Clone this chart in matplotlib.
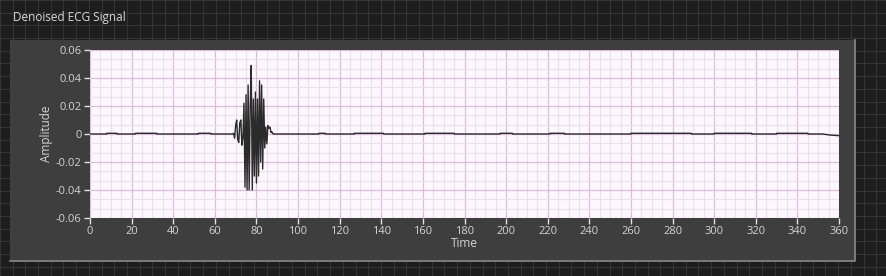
# Denoised ECG signal - LabVIEW style waveform chart

import numpy as np
import matplotlib.pyplot as plt
from matplotlib.ticker import MultipleLocator
from matplotlib.patches import Rectangle

# baseline samples (time, amplitude)
base_t = [0, 8, 8.1, 12.8, 12.9, 21.7, 21.8, 32, 32.1, 52, 52.1, 58, 58.1, 68]
base_v = [0, 0, 0.0005, 0.0005, 0, 0, 0.0005, 0.0005, 0, 0, 0.0005, 0.0005, 0, 0]

# burst around the QRS region
burst_t = [68.5, 69, 69.5, 70, 70.5, 71, 71.5, 72, 72.5, 73, 73.5, 74, 74.5, 75,
           75.5, 76, 76.5, 77, 77.5, 78, 78.5, 79, 79.5, 80, 80.5, 81, 81.5, 82,
           82.5, 83, 83.5, 84, 84.5, 85, 85.5, 86, 86.5, 87, 87.5, 88]
burst_v = [0.0, 0.0005, -0.003, 0.006, 0.010, -0.004, -0.006, 0.008, 0.010, -0.008,
           -0.003, 0.022, -0.038, 0.028, -0.040, 0.035, -0.040, 0.020, 0.049, -0.040,
           0.025, -0.030, 0.030, -0.035, 0.025, -0.030, 0.038, -0.020, 0.035, -0.025,
           0.025, -0.010, 0.005, -0.007, 0.006, 0.004, 0.005, 0.001, 0.0015, 0.0]

# rest of the trace: tiny steps in the baseline
tail_t = [90, 110, 110.1, 113, 113.1, 127, 127.1, 141, 141.1, 161, 161.1, 175,
          175.1, 197, 197.1, 203, 203.1, 221, 221.1, 228, 228.1, 260, 260.1, 289,
          289.1, 300, 300.1, 318, 318.1, 330, 330.1, 345, 345.1, 352, 356, 360]
tail_v = [0, 0, 0.0005, 0.0005, 0, 0, 0.0005, 0.0005, 0, 0, 0.0005, 0.0005,
          0, 0, 0.0005, 0.0005, 0, 0, 0.0005, 0.0005, 0, 0, 0.0005, 0.0005,
          0, 0, 0.0005, 0.0005, 0, 0, 0.0005, 0.0005, 0, 0, -0.0008, -0.0012]

x_ticks = list(range(0, 361, 20))
y_ticks = [-0.06, -0.04, -0.02, 0, 0.02, 0.04, 0.06]
y_labels = ['-0.06', '-0.04', '-0.02', '0', '0.02', '0.04', '0.06']

t = np.array(base_t + burst_t + tail_t)
v = np.array(base_v + burst_v + tail_v)

W, H = 886, 276
fig = plt.figure(figsize=(W / 100, H / 100), dpi=100)
fig.patch.set_facecolor('#1d1d1d')
plt.rcParams['font.family'] = ['Open Sans', 'DejaVu Sans']

# dark background with faint grid
bg = fig.add_axes([0, 0, 1, 1])
bg.set_xlim(0, W)
bg.set_ylim(H, 0)
bg.set_facecolor('#1d1d1d')
bg.xaxis.set_major_locator(MultipleLocator(12.7))
bg.yaxis.set_major_locator(MultipleLocator(12.7))
bg.grid(True, color='#343434', lw=0.8)
bg.tick_params(length=0, labelbottom=False, labelleft=False)
for s in bg.spines.values():
    s.set_visible(False)

# gray panel
bg.add_patch(Rectangle((10, 40), 845, 221, facecolor='#3e3e3e', edgecolor='none', zorder=3))
bg.plot([10, 855, 855], [261, 261, 40], color='#8a8a8a', lw=1.2, zorder=4)
bg.text(13, 17, 'Denoised ECG Signal', color='#d8d8d8', fontsize=8.5, va='center', zorder=5)

# plot area
ax = fig.add_axes([90 / W, 1 - 218 / H, (839 - 90) / W, (218 - 50) / H])
ax.set_facecolor('#fdf8fd')
ax.plot(t, v, color='#2b2b2b', lw=1.0, zorder=5)
ax.set_xlim(0, 360)
ax.set_ylim(-0.06, 0.06)
ax.set_xticks(x_ticks)
ax.set_yticks(y_ticks)
ax.set_yticklabels(y_labels)
ax.xaxis.set_minor_locator(MultipleLocator(5))
ax.yaxis.set_minor_locator(MultipleLocator(0.02 / 3))
ax.grid(True, which='minor', color='#eedfee', lw=0.8)
ax.grid(True, which='major', color='#dfbadf', lw=0.9)
ax.tick_params(which='major', colors='#e0e0e0', labelcolor='#d4d4d4', labelsize=8,
               length=4, width=1, pad=2)
ax.tick_params(which='minor', length=0)
for s in ax.spines.values():
    s.set_visible(False)
ax.set_xlabel('Time', color='#d4d4d4', fontsize=8.5, labelpad=0)
ax.set_ylabel('Amplitude', color='#d4d4d4', fontsize=8.5, labelpad=2)

fig.savefig('out.png', dpi=100, facecolor=fig.get_facecolor())
